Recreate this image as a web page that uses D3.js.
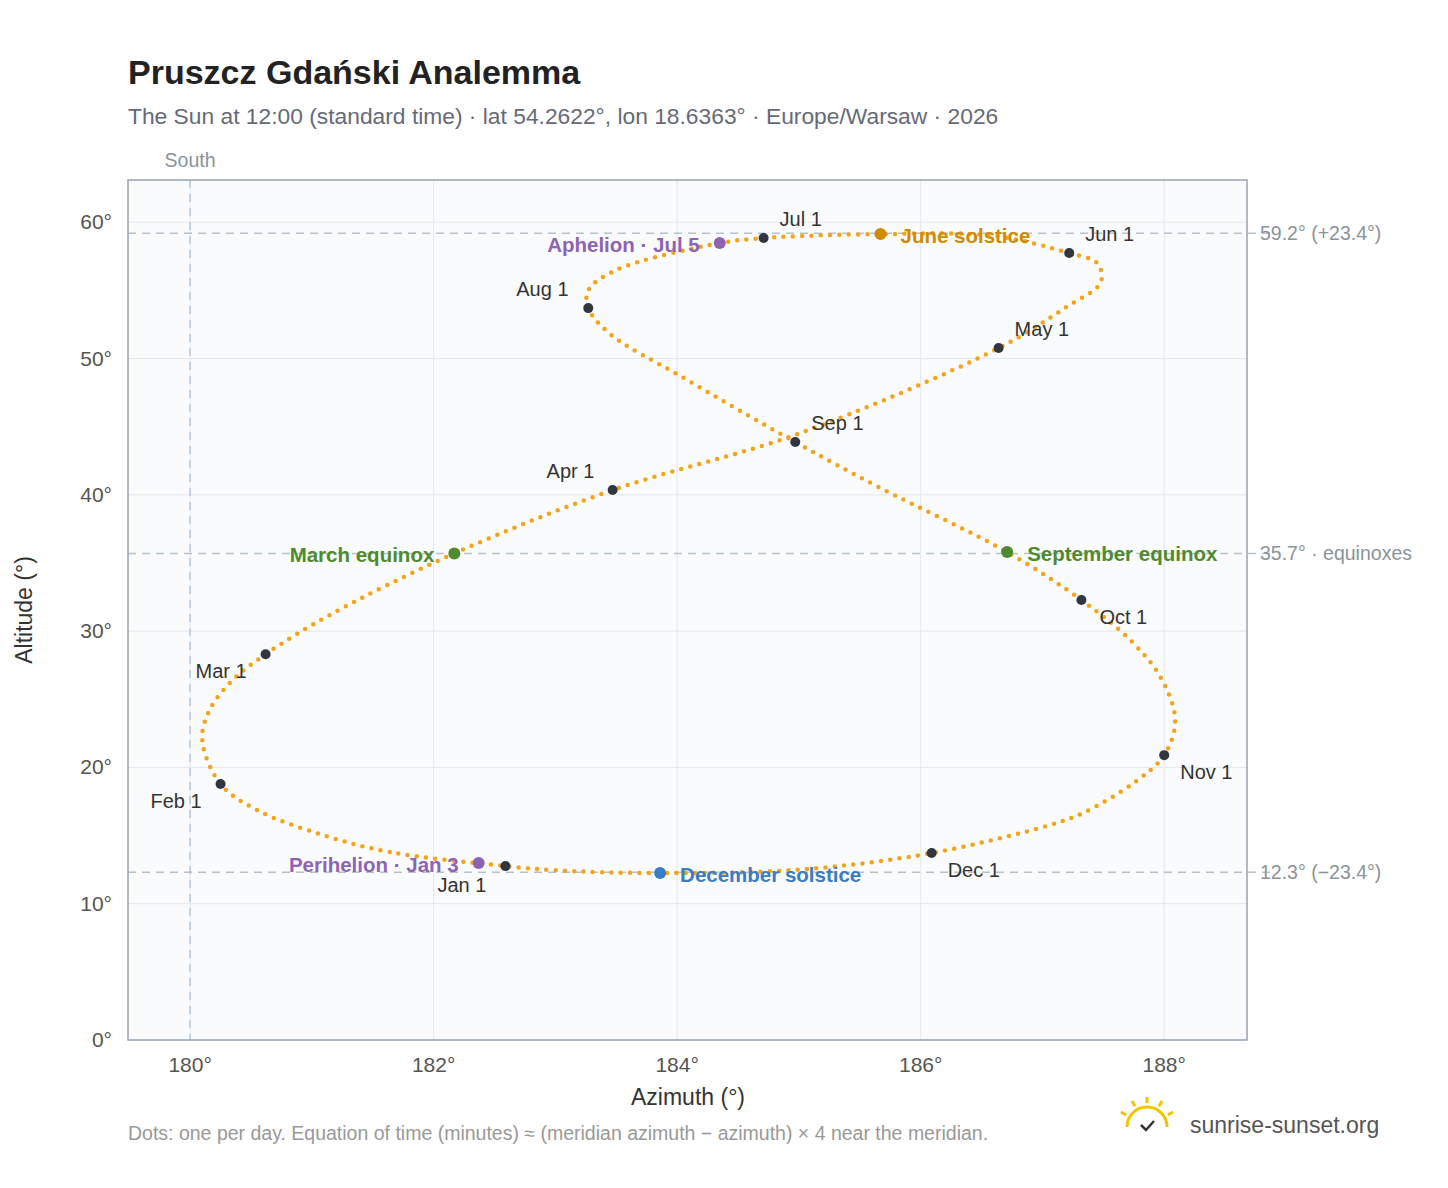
<!DOCTYPE html>
<html><head><meta charset="utf-8">
<script src="https://cdn.jsdelivr.net/npm/d3@7/dist/d3.min.js"></script>
<style>body{margin:0;background:#fff;font-family:"Liberation Sans",Arial,sans-serif}</style>
</head><body><svg id="c" width="1448" height="1188"></svg>
<script>
// path points (approx): [azimuth, altitude]
const pathAz = [182.59,181.64,181.09,180.55,180.25,180.10,180.16,180.35,180.62,181.15,182.17,183.47,185.0,186.64,187.2,187.48,187.45,187.22,186.6,185.67,184.71,184.35,183.5,183.27,183.27,183.45,184.03,184.97,185.67,186.71,187.32,187.72,187.97,188.09,188.0,187.75,187.33,187.06,186.09,185.0,183.86,183.0];
const pathAlt = [12.76,13.79,15.04,16.87,18.78,22.01,24.21,26.41,28.3,31.2,35.7,40.35,44.5,50.77,53.8,55.6,57.0,57.74,59.0,59.13,58.84,58.47,56.5,55.0,53.7,51.8,48.7,43.87,40.5,35.8,32.28,29.35,26.63,23.48,20.9,18.86,16.65,15.77,13.72,12.5,12.25,12.45];
const months = ["Jan 1","Feb 1","Mar 1","Apr 1","May 1","Jun 1","Jul 1","Aug 1","Sep 1","Oct 1","Nov 1","Dec 1"];
const monthAz = [182.59,180.25,180.62,183.47,186.64,187.22,184.71,183.27,184.97,187.32,188.0,186.09];
const monthAlt = [12.76,18.78,28.3,40.35,50.77,57.74,58.84,53.7,43.87,32.28,20.9,13.72];
const events = ["June solstice","December solstice","March equinox","September equinox","Aphelion · Jul 5","Perihelion · Jan 3"];
const eventAz = [185.67,183.86,182.17,186.71,184.35,182.37];
const eventAlt = [59.13,12.25,35.7,35.8,58.47,12.98];
const eventCol = ["#d08c00","#3b7dc4","#4f8a2e","#4f8a2e","#8e63b5","#8e63b5"];
const guideAlt = [59.2,35.7,12.3];
const guideLbl = ["59.2° (+23.4°)","35.7° · equinoxes","12.3° (−23.4°)"];
const xTicks=[180,182,184,186,188], yTicks=[0,10,20,30,40,50,60];

const svg=d3.select("#c");
const L=128,R=1247,T=180,B=1040;
const x=d3.scaleLinear().domain([179.49,188.68]).range([L,R]);
const y=d3.scaleLinear().domain([0,63.1]).range([B,T]);
svg.append("rect").attr("x",L).attr("y",T).attr("width",R-L).attr("height",B-T).attr("fill","#f9fbfd");
const g=svg.append("g");
xTicks.forEach(t=>g.append("line").attr("x1",x(t)).attr("x2",x(t)).attr("y1",T).attr("y2",B).attr("stroke","#e3e8ee"));
yTicks.forEach(t=>g.append("line").attr("x1",L).attr("x2",R).attr("y1",y(t)).attr("y2",y(t)).attr("stroke","#e3e8ee"));
guideAlt.forEach((a,i)=>{
  g.append("line").attr("x1",L).attr("x2",1275).attr("y1",y(a)).attr("y2",y(a)).attr("stroke","#b8c2cc").attr("stroke-width",1.5).attr("stroke-dasharray","8,6");
  svg.append("text").attr("x",1260).attr("y",y(a)+7).attr("font-size",19.5).attr("fill","#8a939c").text(guideLbl[i]);
});
g.append("line").attr("x1",x(180)).attr("x2",x(180)).attr("y1",T).attr("y2",B).attr("stroke","#b8c8d6").attr("stroke-width",1.5).attr("stroke-dasharray","8,6");
svg.append("text").attr("x",x(180)).attr("y",167).attr("text-anchor","middle").attr("font-size",19.5).attr("fill","#8a939c").text("South");
svg.append("rect").attr("x",L).attr("y",T).attr("width",R-L).attr("height",B-T).attr("fill","none").attr("stroke","#98a4b0").attr("stroke-width",1.5);
xTicks.forEach(t=>svg.append("text").attr("x",x(t)).attr("y",1072).attr("text-anchor","middle").attr("font-size",21).attr("fill","#555").text(t+"°"));
yTicks.forEach(t=>svg.append("text").attr("x",112).attr("y",y(t)+7).attr("text-anchor","end").attr("font-size",21).attr("fill","#555").text(t+"°"));
svg.append("text").attr("x",688).attr("y",1105).attr("text-anchor","middle").attr("font-size",23).attr("fill","#333").text("Azimuth (°)");
svg.append("text").attr("transform","translate(32,610) rotate(-90)").attr("text-anchor","middle").attr("font-size",23).attr("fill","#333").text("Altitude (°)");
const pts=pathAz.map((a,i)=>[x(a),y(pathAlt[i])]);
const p=svg.append("path").attr("d",d3.line().curve(d3.curveCatmullRomClosed.alpha(0.5))(pts)).attr("fill","none");
const len=p.node().getTotalLength();
p.attr("stroke","#f5a31a").attr("stroke-width",4.5).attr("stroke-linecap","round").attr("stroke-dasharray","0,"+(len/365));
const moff=[[-68,26],[-70,24],[-70,24],[-66,-12],[16,-12],[16,-12],[16,-12],[-72,-12],[16,-12],[18,24],[16,24],[16,24]];
months.forEach((m,i)=>{
  svg.append("circle").attr("cx",x(monthAz[i])).attr("cy",y(monthAlt[i])).attr("r",5).attr("fill","#2f3640");
  svg.append("text").attr("x",x(monthAz[i])+moff[i][0]).attr("y",y(monthAlt[i])+moff[i][1]).attr("font-size",20).attr("fill","#333").text(m);
});
const eoff=[[20,9],[20,9],[-20,9],[20,9],[-20,9],[-20,9]];
events.forEach((e,i)=>{
  svg.append("circle").attr("cx",x(eventAz[i])).attr("cy",y(eventAlt[i])).attr("r",6).attr("fill",eventCol[i]);
  svg.append("text").attr("x",x(eventAz[i])+eoff[i][0]).attr("y",y(eventAlt[i])+eoff[i][1]).attr("text-anchor",eoff[i][0]<0?"end":"start").attr("font-size",20.5).attr("font-weight","bold").attr("fill",eventCol[i]).text(e);
});
svg.append("text").attr("x",128).attr("y",84).attr("font-size",34).attr("font-weight","bold").attr("fill","#222").text("Pruszcz Gdański Analemma");
svg.append("text").attr("x",128).attr("y",124).attr("font-size",22.8).attr("fill","#666a77").text("The Sun at 12:00 (standard time) · lat 54.2622°, lon 18.6363° · Europe/Warsaw · 2026");
svg.append("text").attr("x",128).attr("y",1140).attr("font-size",19.5).attr("fill","#999").text("Dots: one per day. Equation of time (minutes) ≈ (meridian azimuth − azimuth) × 4 near the meridian.");
svg.append("text").attr("x",1190).attr("y",1133).attr("font-size",23).attr("fill","#555").text("sunrise-sunset.org");
const lg=svg.append("g").attr("transform","translate(1147,1127)");
lg.append("path").attr("d","M-20,0 A20,20 0 0 1 20,0").attr("fill","none").attr("stroke","#f5c400").attr("stroke-width",3);
[-60,-30,0,30,60].forEach(a=>{const r=Math.PI*(a-90)/180;lg.append("line").attr("x1",Math.cos(r)*24).attr("y1",Math.sin(r)*24).attr("x2",Math.cos(r)*30).attr("y2",Math.sin(r)*30).attr("stroke","#f5c400").attr("stroke-width",3);});
lg.append("path").attr("d","M-6,-2 L-1,3 L7,-6").attr("fill","none").attr("stroke","#333").attr("stroke-width",2.5);
</script></body></html>
